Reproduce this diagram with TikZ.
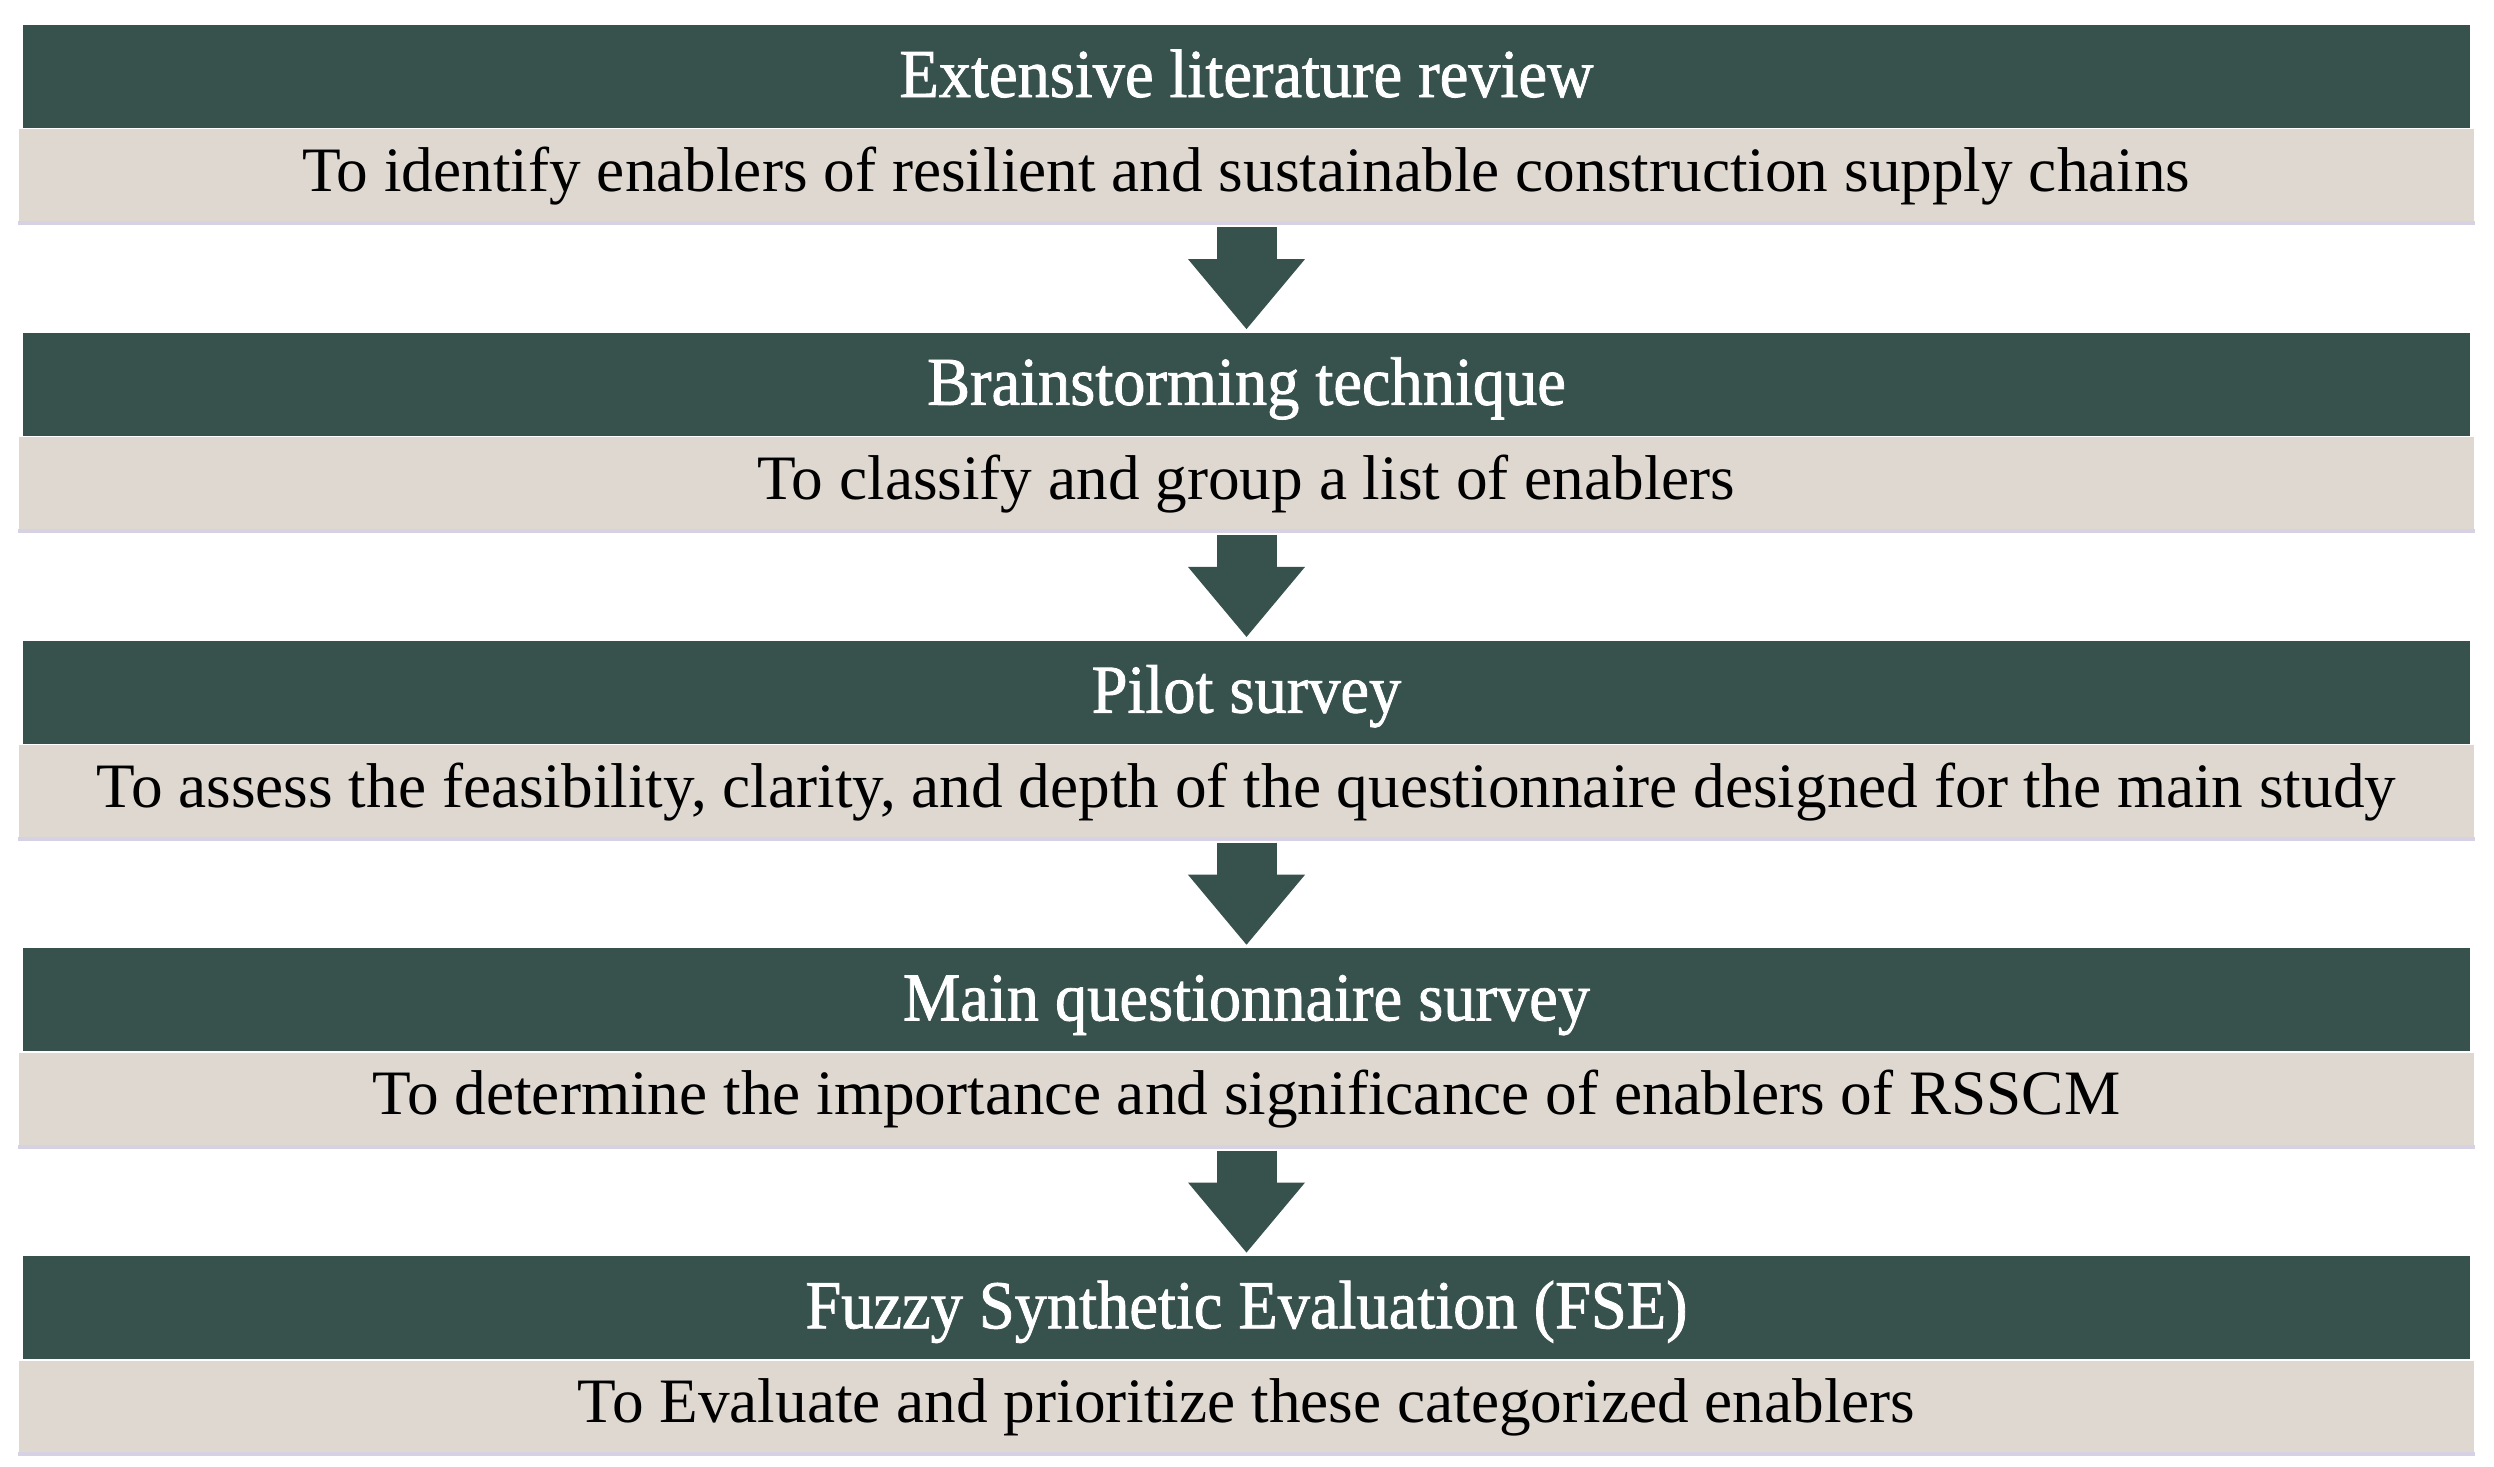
\documentclass[tikz,border=0pt]{standalone}
\usepackage{fontspec}
\setmainfont{Liberation Serif}
\newfontfamily\headfont[FakeStretch=0.94, FakeBold=1.2]{Liberation Serif}
\usepackage{xcolor}
\usepackage{tikz}
\usetikzlibrary{positioning,arrows.meta}

\definecolor{barteal}{RGB}{55,81,76}
\definecolor{barsand}{RGB}{222,216,208}
\definecolor{baredge}{RGB}{214,210,228}

\tikzset{
  headbar/.style={fill=barteal, text=white, font=\headfont\fontsize{19.5}{21}\selectfont,
    minimum width=24.47cm, minimum height=1.03cm, inner sep=0pt,
    text height=0.45cm, text depth=0.04cm},
  descbar/.style={fill=barsand, text=black, font=\fontsize{18}{20}\selectfont,
    minimum width=24.55cm, minimum height=0.95cm, inner sep=0pt,
    text height=0.42cm, text depth=0.13cm},
  downarrow/.style={barteal, line width=0.6cm,
    -{Triangle[width=1.17cm,length=0.7cm,line width=0pt]},
    shorten <=0.02cm, shorten >=0.03cm}
}

\begin{document}
\begin{tikzpicture}
  \useasboundingbox (0,0) rectangle (24.94,-14.66);

  \node[headbar] (h1) at (12.465,-0.765) {Extensive literature review};
  \node[descbar, below=0pt of h1] (d1) {To identify enablers of resilient and sustainable construction supply chains};

  \node[headbar, below=1.07cm of d1] (h2) {Brainstorming technique};
  \node[descbar, below=0pt of h2] (d2) {To classify and group a list of enablers};

  \node[headbar, below=1.07cm of d2] (h3) {Pilot survey};
  \node[descbar, below=0pt of h3] (d3) {To assess the feasibility, clarity, and depth of the questionnaire designed for the main study};

  \node[headbar, below=1.07cm of d3] (h4) {Main questionnaire survey};
  \node[descbar, below=0pt of h4] (d4) {To determine the importance and significance of enablers of RSSCM};

  \node[headbar, below=1.07cm of d4] (h5) {Fuzzy Synthetic Evaluation (FSE)};
  \node[descbar, below=0pt of h5] (d5) {To Evaluate and prioritize these categorized enablers};

  % thin edge under each light bar
  \foreach \n in {d1,d2,d3,d4,d5}
    \draw[baredge, line width=0.04cm] ([yshift=0.02cm]\n.south west) -- ([yshift=0.02cm]\n.south east);

  % arrows between the steps
  \foreach \a/\b in {d1/h2, d2/h3, d3/h4, d4/h5}
    \draw[downarrow] (\a.south) -- (\b.north);
\end{tikzpicture}
\end{document}
